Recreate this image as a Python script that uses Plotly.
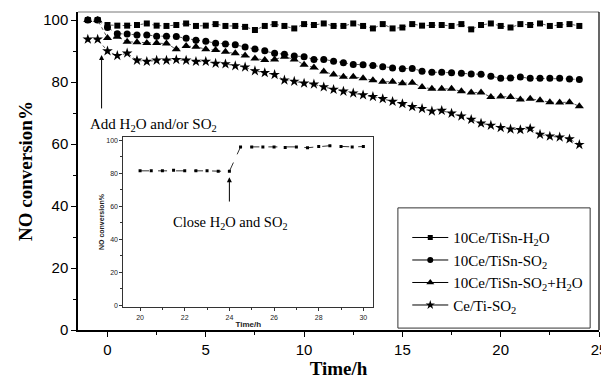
import plotly.graph_objects as go

# ---------------- data ----------------
time_h = [-1, -0.5, 0, 0.5, 1, 1.5, 2, 2.5, 3, 3.5, 4, 4.5, 5, 5.5, 6, 6.5, 7, 7.5,
          8, 8.5, 9, 9.5, 10, 10.5, 11, 11.5, 12, 12.5, 13, 13.5, 14, 14.5, 15, 15.5,
          16, 16.5, 17, 17.5, 18, 18.5, 19, 19.5, 20, 20.5, 21, 21.5, 22, 22.5, 23, 23.5, 24]

tisn_h2o = [100, 100, 98.4, 98.2, 98.2, 98.4, 98.9, 98.2, 98.1, 98.4, 98.9, 98.1, 98.2,
            98.7, 98.1, 98.1, 97.8, 96.8, 98.1, 98.7, 98.1, 97.3, 98.7, 98.4, 98.9, 98.1,
            98.1, 98.9, 98.1, 97.3, 98.7, 97.3, 97.6, 98.7, 98.2, 98.4, 98.4, 98.1, 98.7,
            97.0, 98.4, 98.9, 98.1, 97.6, 98.7, 98.4, 98.9, 98.1, 98.4, 98.7, 98.1]

tisn_so2 = [100, 100, 97.6, 95.6, 95.5, 95.2, 95.2, 94.8, 94.8, 94.7, 94.1, 93.5, 93.2,
            92.5, 92.3, 92.0, 91.3, 90.7, 90.1, 89.3, 89.0, 88.4, 88.2, 87.3, 87.3, 86.7,
            86.2, 85.7, 85.6, 85.3, 84.9, 84.5, 84.3, 84.4, 83.5, 83.2, 83.2, 83.0, 82.8,
            82.6, 82.5, 81.9, 81.2, 81.3, 81.6, 81.2, 81.2, 81.2, 81.2, 81.0, 80.8]

tisn_so2_h2o = [100, 100, 94.2, 94.6, 93.0, 92.8, 92.6, 92.6, 92.4, 90.6, 91.6, 91.4, 90.6,
                90.3, 89.8, 89.3, 88.6, 87.6, 87.1, 87.3, 88.2, 87.3, 85.6, 84.7, 83.4, 82.4,
                81.7, 81.7, 81.2, 80.6, 80.1, 80.1, 79.6, 79.8, 78.4, 77.8, 77.8, 77.8, 77.0,
                76.6, 76.6, 75.2, 75.3, 75.2, 74.4, 74.6, 74.1, 73.5, 73.4, 73.5, 72.2]

ceti_so2 = [93.8, 93.8, 90.0, 88.5, 89.3, 87.0, 86.6, 87.0, 87.0, 87.2, 87.0, 86.6, 86.6,
            86.0, 85.8, 85.2, 84.8, 83.6, 83.0, 82.4, 80.6, 80.2, 79.6, 79.3, 78.4, 77.6,
            77.0, 76.4, 75.8, 75.3, 74.6, 73.7, 73.0, 72.0, 71.4, 70.6, 70.8, 69.9, 69.0,
            67.9, 66.7, 66.0, 65.3, 64.8, 64.6, 65.0, 63.1, 62.5, 62.2, 61.6, 59.8]

series_names = ["10Ce/TiSn-H<sub>2</sub>O", "10Ce/TiSn-SO<sub>2</sub>",
                "10Ce/TiSn-SO<sub>2</sub>+H<sub>2</sub>O", "Ce/Ti-SO<sub>2</sub>"]

inset_time = [20, 20.5, 21, 21.5, 22, 22.5, 23, 23.5, 24, 24.5, 25, 25.5, 26, 26.5,
              27, 27.5, 28, 28.5, 29, 29.5, 30]
inset_conv = [81.5, 81.5, 81.6, 81.8, 81.5, 81.5, 81.5, 81.3, 81.2, 96.0, 96.0, 96.0,
              96.0, 95.7, 96.0, 95.5, 96.3, 96.7, 96.3, 96.0, 96.2]

x_ticks = [0, 5, 10, 15, 20, 25]
y_ticks = [0, 20, 40, 60, 80, 100]
inset_x_ticks = [20, 22, 24, 26, 28, 30]

# ---------------- figure ----------------
SERIF = "Liberation Serif, Times New Roman, serif"
SANS = "Liberation Sans, Arial, sans-serif"

fig = go.Figure()
series = [tisn_h2o, tisn_so2, tisn_so2_h2o, ceti_so2]
symbols = ["square", "circle", "triangle-up", "star"]
sizes = [6, 7, 8, 8]

for vals, sym, sz, nm in zip(series, symbols, sizes, series_names):
    fig.add_trace(go.Scatter(
        x=time_h, y=vals, mode="lines+markers", name=nm, showlegend=False,
        line=dict(color="#555", width=1, dash="dot"),
        marker=dict(symbol=sym, size=sz, color="black"),
        xaxis="x", yaxis="y"))

# legend samples (solid lines like the reference legend)
for sym, sz, nm in zip(symbols, sizes, series_names):
    fig.add_trace(go.Scatter(
        x=[None], y=[None], mode="lines+markers", name=nm, showlegend=True,
        line=dict(color="black", width=1),
        marker=dict(symbol=sym, size=sz - 1, color="black"),
        xaxis="x", yaxis="y"))

# inset
fig.add_trace(go.Scatter(
    x=inset_time, y=inset_conv, mode="lines+markers", showlegend=False,
    line=dict(color="#333", width=1, dash="dash"),
    marker=dict(symbol="square", size=3, color="black"),
    xaxis="x2", yaxis="y2"))

# the page body adds an 8px offset, so the figure is 8px smaller than the window
fig.update_layout(
    width=601, height=373,
    margin=dict(l=70, r=2, t=4, b=51),
    paper_bgcolor="white", plot_bgcolor="white",
    xaxis=dict(
        domain=[0, 1], range=[-1.5, 25], tickvals=x_ticks,
        showline=True, linecolor="black", linewidth=1.5,
        ticks="outside", ticklen=5, tickwidth=1.2, tickcolor="black",
        minor=dict(dtick=2.5, tick0=0, ticks="outside", ticklen=3, tickcolor="black"),
        showgrid=False, zeroline=False, ticklabeloverflow="allow",
        tickfont=dict(family=SANS, size=15, color="black"),
        title=dict(text="<b>Time/h</b>", font=dict(family=SERIF, size=19, color="black"),
                   standoff=4)),
    yaxis=dict(
        domain=[0, 1], range=[0, 102.6], tickvals=y_ticks,
        showline=True, linecolor="black", linewidth=1.5,
        ticks="outside", ticklen=5, tickwidth=1.2, tickcolor="black",
        minor=dict(dtick=10, tick0=0, ticks="outside", ticklen=3, tickcolor="black"),
        showgrid=False, zeroline=False,
        tickfont=dict(family=SANS, size=15, color="black"),
        title=dict(text="<b>NO conversion%</b>", font=dict(family=SERIF, size=19, color="black"),
                   standoff=6)),
    xaxis2=dict(
        domain=[0.087, 0.567], anchor="y2", range=[19.25, 30.45], tickvals=inset_x_ticks,
        showline=True, linecolor="#333", linewidth=1, mirror=True,
        ticks="outside", ticklen=3, tickcolor="#333",
        minor=dict(dtick=1, tick0=20, ticks="outside", ticklen=2, tickcolor="#333"),
        showgrid=False, zeroline=False,
        tickfont=dict(family=SANS, size=7, color="#222"),
        title=dict(text="<b>Time/h</b>", font=dict(family=SANS, size=8, color="#222"),
                   standoff=1)),
    yaxis2=dict(
        domain=[0.072, 0.607], anchor="x2", range=[-1, 102], tickvals=y_ticks,
        showline=True, linecolor="#333", linewidth=1, mirror=True,
        ticks="outside", ticklen=3, tickcolor="#333",
        minor=dict(dtick=10, tick0=0, ticks="outside", ticklen=2, tickcolor="#333"),
        showgrid=False, zeroline=False,
        tickfont=dict(family=SANS, size=7, color="#222"),
        title=dict(text="<b>NO conversion%</b>", font=dict(family=SANS, size=7, color="#222"),
                   standoff=0)),
    legend=dict(
        x=0.632, y=0.342, xanchor="left", yanchor="top",
        bgcolor="rgba(0,0,0,0)", borderwidth=0,
        font=dict(family=SERIF, size=15, color="black"),
        itemwidth=36, tracegroupgap=0),
    shapes=[
        dict(type="line", xref="paper", yref="paper", x0=0, x1=1, y0=1, y1=1,
             line=dict(color="#777", width=1)),
        dict(type="line", xref="paper", yref="paper", x0=1, x1=1, y0=0, y1=1,
             line=dict(color="black", width=1.2)),
        dict(type="rect", xref="paper", yref="paper", x0=0.614, x1=0.983, y0=0.006, y1=0.384,
             line=dict(color="#333", width=1)),
    ],
    annotations=[
        dict(x=-0.3, y=88.7, ax=-0.3, ay=71, xref="x", yref="y", axref="x", ayref="y",
             text="", showarrow=True, arrowhead=2, arrowsize=1, arrowwidth=1, arrowcolor="black"),
        dict(x=-1.0, y=66.1, xref="x", yref="y", xanchor="left", showarrow=False,
             text="Add H<sub>2</sub>O and/or SO<sub>2</sub>",
             font=dict(family=SERIF, size=15, color="black")),
        dict(x=24, y=77.6, ax=24, ay=62, xref="x2", yref="y2", axref="x2", ayref="y2",
             text="", showarrow=True, arrowhead=2, arrowsize=1, arrowwidth=1, arrowcolor="black"),
        dict(x=21.4, y=50, xref="x2", yref="y2", xanchor="left", showarrow=False,
             text="Close H<sub>2</sub>O and SO<sub>2</sub>",
             font=dict(family=SERIF, size=14.5, color="black")),
    ],
)

fig.write_html("out.html")
